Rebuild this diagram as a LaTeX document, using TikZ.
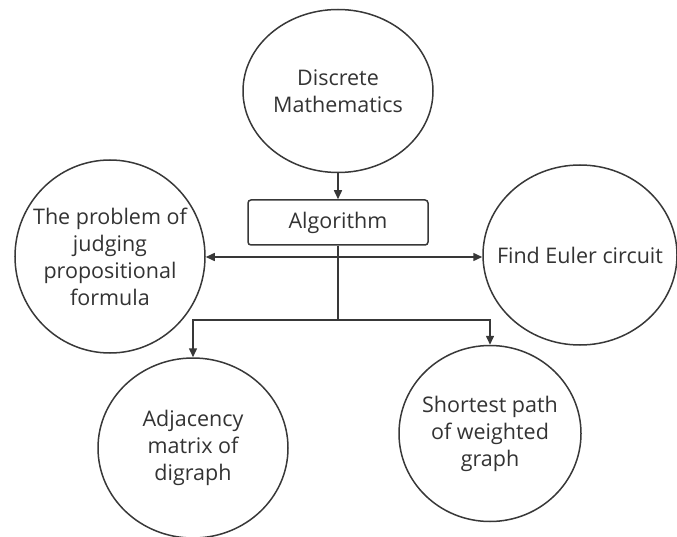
\documentclass[tikz,border=0pt]{standalone}
\usepackage{fontspec}
\setmainfont{Open Sans}
\usetikzlibrary{shapes.geometric,arrows.meta}
\definecolor{ink}{HTML}{383838}
\definecolor{txt}{HTML}{333333}
\tikzset{
  % negative inner sep keeps the ellipse at its minimum size around wide text
  bubble/.style={ellipse, draw=ink, line width=1.5pt, inner sep=-22pt, align=center,
    text=txt, font=\fontsize{21.5}{27}\selectfont},
  stepbox/.style={rectangle, draw=ink, line width=1.5pt, rounded corners=3pt,
    minimum width=180pt, minimum height=45pt, inner sep=0pt, text=txt,
    font=\fontsize{21.5}{27}\selectfont},
  link/.style={draw=ink, line width=1.5pt},
  arr/.style={link, -{Triangle[length=9pt,width=8pt]}}
}
\begin{document}
\begin{tikzpicture}[x=1pt,y=-1pt]
  \useasboundingbox (0,0) rectangle (677,537);
  \clip (0,0) rectangle (677,537);

  % topics
  \node[bubble, minimum width=190pt, minimum height=163pt] (dm) at (338,91) {Discrete\\Mathematics};
  \node[stepbox] (alg) at (338,222.5) {Algorithm};
  \node[bubble, minimum width=190pt, minimum height=193pt] (pf) at (110,256.5) {The problem of\\judging\\propositional\\formula};
  \node[bubble, minimum width=194pt, minimum height=180pt] (eu) at (580,255) {Find Euler circuit};
  \node[bubble, minimum width=190pt, minimum height=180pt] (adj) at (193,448) {Adjacency\\matrix of\\digraph};
  \node[bubble, minimum width=182pt, minimum height=176pt] (sp) at (490,433.5) {Shortest path\\of weighted\\graph};

  % branch points on the trunk below the box
  \coordinate (h) at (338,257);
  \coordinate (j) at (338,320);

  % connectors
  \draw[arr] (dm) -- (alg);
  \draw[link] (alg.south) -- (j);
  \draw[arr] (h) -- (h -| pf.east);
  \draw[arr] (h) -- (h -| eu.west);
  \draw[arr] (j) -| (adj.north);
  \draw[arr] (j) -| (sp.north);
\end{tikzpicture}
\end{document}
